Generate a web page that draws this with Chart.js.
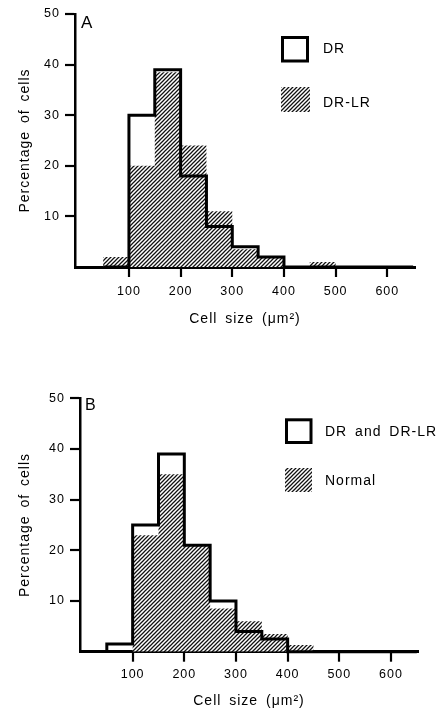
<!DOCTYPE html>
<html><head><meta charset="utf-8">
<script src="https://cdn.jsdelivr.net/npm/chart.js@4.4.1/dist/chart.umd.min.js"></script>
<style>
html,body{margin:0;padding:0;background:#fff;}
#wrapA{position:absolute;left:0;top:0;width:441px;height:340px;}
#wrapB{position:absolute;left:0;top:340px;width:441px;height:370px;}
canvas{display:block;}
</style></head><body>
<div id="wrapA"><canvas id="chartA" width="441" height="340"></canvas></div>
<div id="wrapB"><canvas id="chartB" width="441" height="370"></canvas></div>
<script>
// ---- data ----
const binStarts = [50,100,150,200,250,300,350,400,450,500,550,600];
const binWidth = 50;
const xTickValues = [100,200,300,400,500,600];
const yTickValues = [10,20,30,40,50];
const xAxisTitle = 'Cell size (\u03BCm\u00B2)';
const yAxisTitle = 'Percentage of cells';

const panelALabel = 'A';
const panelASeriesNames = ['DR', 'DR-LR'];
const panelAOutline = [0,30,39,18,8,4,2,0,0,0,0,0];
const panelAHatched = [2,20,38.5,24,11,3.5,2,0,1,0,0,0];

const panelBLabel = 'B';
const panelBSeriesNames = ['DR and DR-LR', 'Normal'];
const panelBOutline = [1.5,25,39,21,10,4,2.5,0,0,0,0,0];
const panelBHatched = [0,23,35,21,8.5,6,3.5,1.3,0,0,0,0];

// ---- helpers ----
function stepPoints(values){
  const pts = [{x: binStarts[0], y: 0}];
  values.forEach((v,i) => pts.push({x: binStarts[i], y: v}));
  pts.push({x: binStarts[binStarts.length-1] + binWidth, y: 0});
  return pts;
}
function makeHatch(){
  const s = 4;
  const c = document.createElement('canvas');
  c.width = s; c.height = s;
  const g = c.getContext('2d');
  g.fillStyle = '#fff'; g.fillRect(0,0,s,s);
  g.strokeStyle = '#111'; g.lineWidth = 1.25;
  g.beginPath();
  g.moveTo(-1, s+1); g.lineTo(s+1, -1);
  g.moveTo(-1, 1); g.lineTo(1, -1);
  g.moveTo(s-1, s+1); g.lineTo(s+1, s-1);
  g.stroke();
  return g.createPattern(c, 'repeat');
}
const hatch = makeHatch();

Chart.defaults.font.family = "'Liberation Sans', Arial, sans-serif";
Chart.defaults.color = '#000';

const spacingPlugin = {
  id: 'spacing',
  beforeDraw(chart){
    chart.ctx.letterSpacing = '1px';
    chart.ctx.wordSpacing = '3px';
  }
};

const decorPlugin = {
  id: 'decor',
  afterDraw(chart, args, opts){
    const ctx = chart.ctx;
    ctx.save();
    ctx.letterSpacing = '1px';
    ctx.wordSpacing = '3px';
    ctx.fillStyle = '#000';
    // panel letter
    ctx.font = opts.letterSize + "px 'Liberation Sans', Arial, sans-serif";
    ctx.textAlign = 'left'; ctx.textBaseline = 'alphabetic';
    ctx.fillText(opts.letter, opts.letterX, opts.letterY);
    // legend
    const ds = chart.data.datasets;
    const outline = ds[0], hatched = ds[1];
    const b1 = opts.box1, b2 = opts.box2;
    ctx.lineWidth = 3; ctx.strokeStyle = '#000';
    ctx.strokeRect(b1[0]+1.5, b1[1]+1.5, b1[2]-3, b1[3]-3);
    ctx.fillStyle = hatch;
    ctx.fillRect(b2[0], b2[1], b2[2], b2[3]);
    ctx.fillStyle = '#000';
    ctx.font = "14px 'Liberation Sans', Arial, sans-serif";
    ctx.textBaseline = 'middle';
    ctx.fillText(outline.label, opts.text1[0], opts.text1[1]);
    ctx.fillText(hatched.label, opts.text2[0], opts.text2[1]);
    ctx.restore();
  }
};

function makeChart(id, names, outlineVals, hatchVals, L){
  return new Chart(document.getElementById(id), {
    type: 'line',
    data: {
      datasets: [
        { label: names[0], data: stepPoints(outlineVals), stepped: 'before',
          borderColor: '#000', borderWidth: 3, fill: false, pointRadius: 0,
          borderJoinStyle: 'miter', borderCapStyle: 'butt', clip: 8, order: 0 },
        { label: names[1], data: stepPoints(hatchVals), stepped: 'before',
          borderWidth: 0, borderColor: 'rgba(0,0,0,0)', backgroundColor: hatch,
          fill: 'origin', pointRadius: 0, clip: 8, order: 1 }
      ]
    },
    options: {
      responsive: false, animation: false, events: [],
      layout: { padding: { top: L.padTop, right: L.padRight, left: 0, bottom: 0 } },
      plugins: { legend: { display: false }, tooltip: { enabled: false },
        decor: L.decor },
      scales: {
        x: {
          type: 'linear', min: L.xMin, max: L.xMax,
          afterBuildTicks: s => { s.ticks = xTickValues.map(v => ({value: v})); },
          afterFit: s => { s.height = L.xAxisHeight; },
          grid: { display: true, drawOnChartArea: false, drawTicks: true,
                  color: '#000', lineWidth: 2,
                  tickLength: 10, tickWidth: 2.2, tickColor: '#000' },
          border: { display: true, color: '#000', width: 3 },
          ticks: { padding: L.xTickPad, maxRotation: 0, autoSkip: false,
                   font: { size: 12.5 }, color: '#000' },
          title: { display: true, text: xAxisTitle, font: { size: 14 },
                   color: '#000', padding: { top: 0, bottom: L.xTitlePad } }
        },
        y: {
          min: 0, max: 50,
          afterBuildTicks: s => { s.ticks = yTickValues.map(v => ({value: v})); },
          afterFit: s => { s.width = L.yAxisWidth; },
          grid: { display: true, drawOnChartArea: false, drawTicks: true,
                  color: '#000', lineWidth: 2,
                  tickLength: 10, tickWidth: 2.2, tickColor: '#000' },
          border: { display: true, color: '#000', width: 2.5 },
          ticks: { padding: 5, font: { size: 12.5 }, color: '#000' },
          title: { display: true, text: yAxisTitle, font: { size: 14 },
                   color: '#000', padding: { top: 17, bottom: 0 } }
        }
      }
    },
    plugins: [spacingPlugin, decorPlugin]
  });
}

makeChart('chartA', panelASeriesNames, panelAOutline, panelAHatched, {
  xMin: -4.4, xMax: 653.6, padTop: 14, padRight: 26, yAxisWidth: 75,
  xAxisHeight: 73, xTickPad: 7.5, xTitlePad: 12.6,
  decor: { letter: panelALabel, letterSize: 17, letterX: 81, letterY: 28,
    box1: [281, 36, 28, 26.5], box2: [281, 87, 29, 25],
    text1: [323, 49], text2: [323, 103] }
});
makeChart('chartB', panelBSeriesNames, panelBOutline, panelBHatched, {
  xMin: -1.9, xMax: 652.3, padTop: 58.3, padRight: 23, yAxisWidth: 80,
  xAxisHeight: 58.3, xTickPad: 5, xTitlePad: 0.6,
  decor: { letter: panelBLabel, letterSize: 16, letterX: 85, letterY: 70,
    box1: [285, 78.3, 27.5, 25.7], box2: [285, 128, 27, 24],
    text1: [325, 91.7], text2: [325, 140.7] }
});
</script>
</body></html>
